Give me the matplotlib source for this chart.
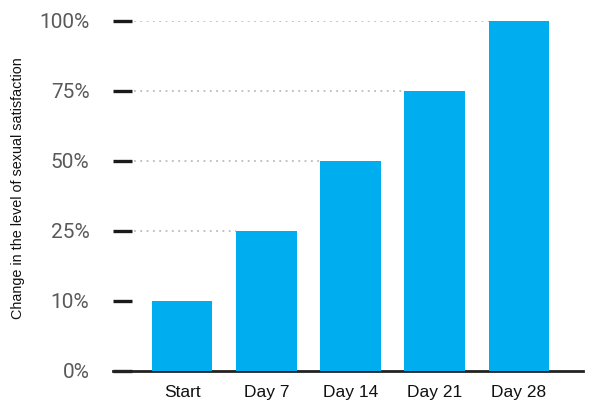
import numpy as np
import matplotlib
matplotlib.use("Agg")
import matplotlib.pyplot as plt

categories = ["Start", "Day 7", "Day 14", "Day 21", "Day 28"]
values = [10, 25, 50, 75, 100]
tick_values = [0, 10, 25, 50, 75, 100]
tick_labels = ["0%", "10%", "25%", "50%", "75%", "100%"]

narrow = "Liberation Sans"

fig = plt.figure(figsize=(5.92, 4.18), dpi=100)
ax = fig.add_axes([113/592, 47/418, 470/592, 350/418])

tv = np.array(tick_values, float)
tp = np.arange(len(tick_values), dtype=float)
fwd = lambda v: np.interp(v, tv, tp)
inv = lambda p: np.interp(p, tp, tv)
ax.set_yscale("function", functions=(fwd, inv))

x = np.arange(len(categories))
width = 0.72
ax.bar(x, values, width=width, color="#00AEEF", zorder=3)

# dotted guide lines from left edge to the bar reaching that level
xmin = -0.82
for i, v in enumerate(values):
    if v >= 25:
        ax.hlines(v, xmin + 0.25, i - width/2, colors="#bbbbbb",
                  linestyles=(0, (1, 2.5)), linewidth=1.3, zorder=1)

ax.set_xlim(xmin, 4.76)
ax.set_ylim(0, 100)
ax.set_yticks(tick_values)
ax.set_yticklabels(tick_labels)
ax.set_xticks(x)
ax.set_xticklabels(categories)

for s in ["top", "right", "left"]:
    ax.spines[s].set_visible(False)
ax.spines["bottom"].set_linewidth(2)
ax.spines["bottom"].set_color("#222222")

ax.tick_params(axis="y", direction="in", length=14, width=2.4, color="#1a1a1a",
               pad=17, labelsize=15, labelcolor="#5a5a5a")
for t in ax.get_yticklabels():
    t.set_fontfamily("Roboto")
    t.set_fontweight("normal")
ax.tick_params(axis="x", length=0, pad=10, labelsize=12.5, labelcolor="#111111")
for t in ax.get_xticklabels():
    t.set_fontfamily(narrow)

fig.text(18/592, 1 - 188/418, "Change in the level of sexual satisfaction",
         rotation=90, ha="center", va="center", fontsize=10.4,
         family=narrow, color="#111111")

fig.savefig("out.png", dpi=100)
